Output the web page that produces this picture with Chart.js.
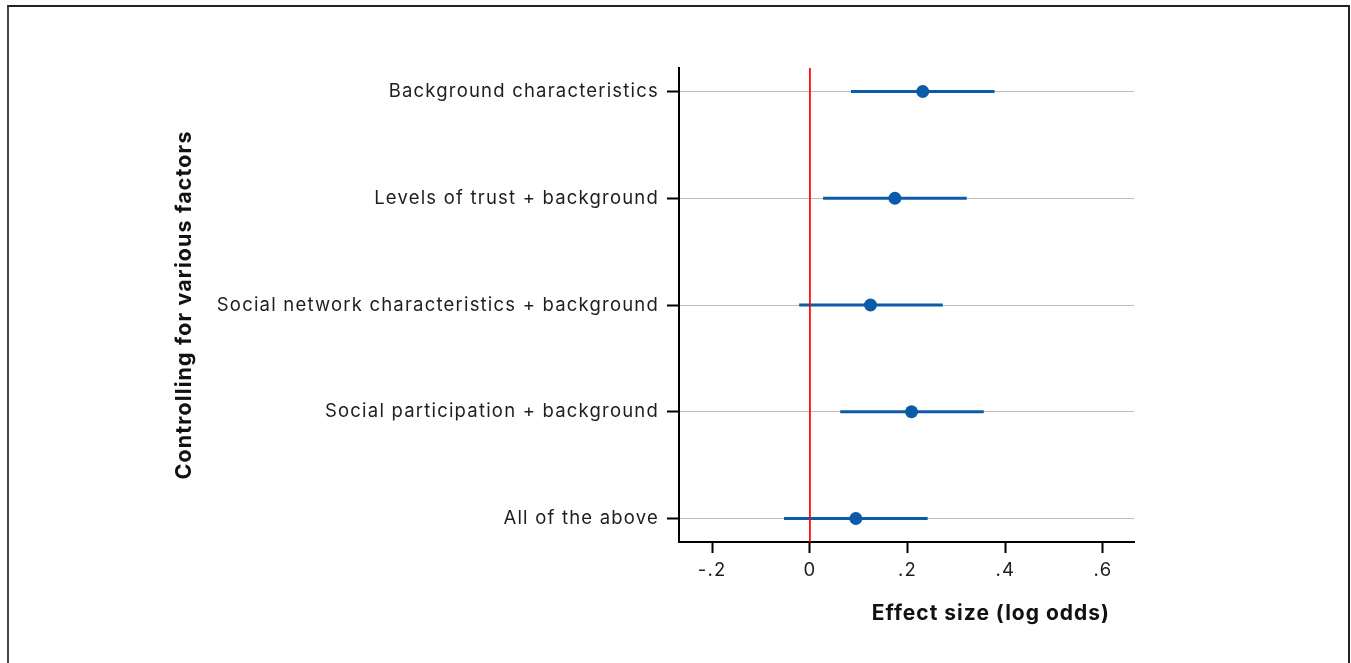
<!DOCTYPE html>
<html>
<head>
<meta charset="utf-8">
<script src="https://cdn.jsdelivr.net/npm/chart.js@4/dist/chart.umd.min.js"></script>
<style>
  html, body { margin: 0; padding: 0; background: #fff; }
  #wrap { position: relative; width: 1351px; height: 663px; overflow: hidden; }
  #frame { position: absolute; left: 7px; top: 5px; width: 1343px; height: 700px;
           border-left: 2px solid #444; border-top: 2px solid #222; border-right: 2px solid #222; box-sizing: border-box; }
  #c { position: absolute; left: 0; top: 0; }
</style>
</head>
<body>
<div id="wrap">
  <div id="frame"></div>
  <canvas id="c" width="1351" height="663"></canvas>
</div>
<script>
// Model specifications (top to bottom)
const categories = [
  'Background characteristics',
  'Levels of trust + background',
  'Social network characteristics + background',
  'Social participation + background',
  'All of the above'
];
// Point estimates and 95% confidence bounds (log odds)
const estimates = [0.231, 0.174, 0.124, 0.208, 0.094];
const lowerCI   = [0.084, 0.027, -0.022, 0.062, -0.053];
const upperCI   = [0.378, 0.321, 0.272, 0.356, 0.241];
// Axis ticks
const xTickValues = [-0.2, 0, 0.2, 0.4, 0.6];
const xTickLabels = ['-.2', '0', '.2', '.4', '.6'];
const referenceValue = 0;

const xTitle = 'Effect size (log odds)';
const yTitle = 'Controlling for various factors';

const BLUE = '#0b5ba8';
const FONT = 'Inter, "Noto Sans", sans-serif';

const Y_MIN = -0.22, Y_MAX = categories.length - 1 + 0.22;

const ciDatasets = categories.map((c, i) => ({
  type: 'scatter',
  showLine: true,
  data: [{ x: lowerCI[i], y: i }, { x: upperCI[i], y: i }],
  borderColor: BLUE,
  borderWidth: 3,
  pointRadius: 0,
  order: 2
}));

// Wider letter spacing for all canvas text
const spacing = {
  id: 'spacing',
  beforeDraw(chart) { chart.ctx.letterSpacing = '1.2px'; }
};

const axisTitles = {
  id: 'axisTitles',
  afterDraw(chart) {
    const ctx = chart.ctx;
    const area = chart.chartArea;
    ctx.save();
    ctx.fillStyle = '#111';
    ctx.textBaseline = 'middle';
    ctx.letterSpacing = '1px';
    ctx.font = 'bold 21px ' + FONT;
    ctx.textAlign = 'right';
    ctx.fillText(xTitle, area.right - 24, 614);
    ctx.letterSpacing = '1.1px';
    ctx.font = 'bold 21.5px ' + FONT;
    ctx.translate(185, (area.top + area.bottom) / 2);
    ctx.rotate(-Math.PI / 2);
    ctx.textAlign = 'center';
    ctx.fillText(yTitle, 0, 0);
    ctx.restore();
  }
};

new Chart(document.getElementById('c'), {
  type: 'scatter',
  data: {
    datasets: [
      {
        type: 'scatter',
        showLine: true,
        data: [{ x: referenceValue, y: Y_MIN }, { x: referenceValue, y: Y_MAX }],
        borderColor: '#ff0000',
        borderWidth: 1,
        pointRadius: 0,
        order: 0
      },
      {
        type: 'scatter',
        data: estimates.map((v, i) => ({ x: v, y: i })),
        backgroundColor: BLUE,
        borderColor: BLUE,
        pointRadius: 6.5,
        borderWidth: 0,
        order: 1
      },
      ...ciDatasets
    ]
  },
  options: {
    responsive: false,
    animation: false,
    devicePixelRatio: 1,
    layout: { padding: { top: 68, right: 217, left: 0, bottom: 0 } },
    plugins: { legend: { display: false }, tooltip: { enabled: false } },
    scales: {
      x: {
        type: 'linear',
        min: -0.268,
        max: 0.6635,
        afterBuildTicks(s) { s.ticks = xTickValues.map(v => ({ value: v })); },
        afterFit(s) { s.height = 663 - 542; },
        ticks: {
          callback(v, idx) { return xTickLabels[idx]; },
          color: '#1e1e1e',
          font: { family: FONT, size: 18.5 },
          padding: 6,
          maxRotation: 0
        },
        grid: { drawOnChartArea: false, drawTicks: true, tickLength: 11, tickColor: '#000', tickWidth: 2 },
        border: { display: true, color: '#000', width: 2 }
      },
      y: {
        type: 'linear',
        reverse: true,
        min: Y_MIN,
        max: Y_MAX,
        afterBuildTicks(s) { s.ticks = categories.map((c, i) => ({ value: i })); },
        afterFit(s) { s.width = 679; },
        ticks: {
          callback(v) { return categories[v]; },
          color: '#1e1e1e',
          font: { family: FONT, size: 18.5 },
          padding: 8
        },
        grid: { color: '#bdbdbd', lineWidth: 1, drawTicks: true, tickLength: 12, tickColor: '#000', tickWidth: 2 },
        border: { display: true, color: '#000', width: 2 }
      }
    }
  },
  plugins: [spacing, axisTitles]
});
</script>
</body>
</html>
